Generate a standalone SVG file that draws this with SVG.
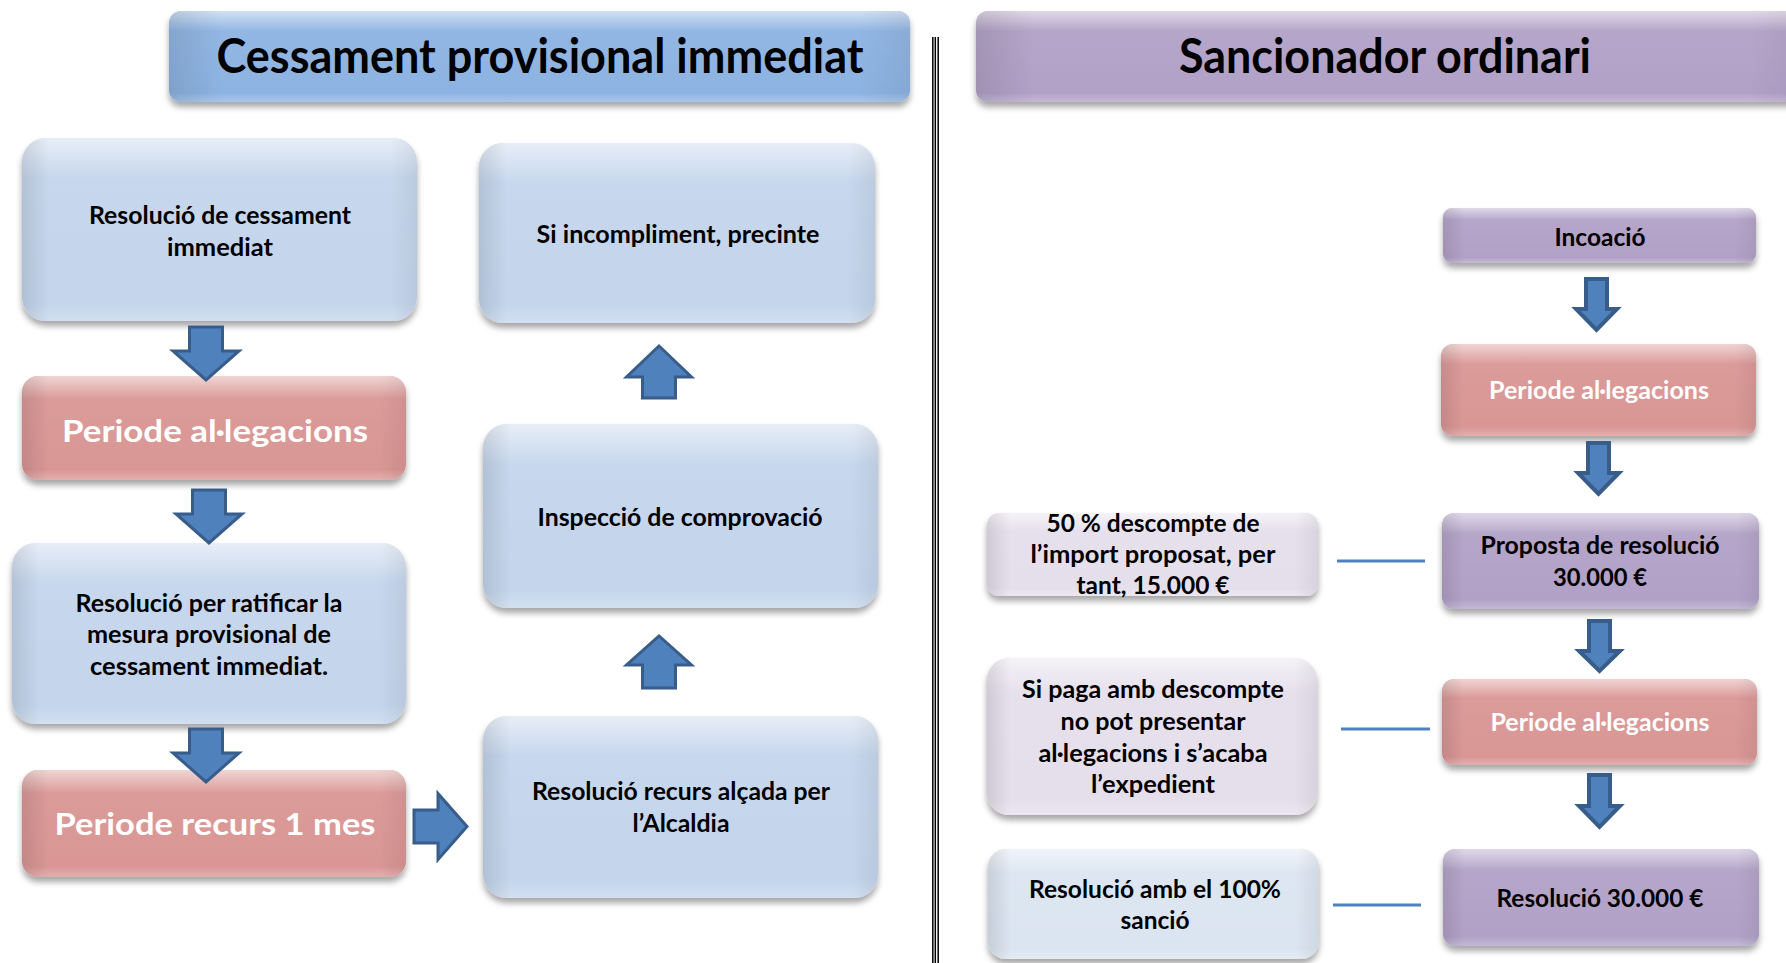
<svg xmlns="http://www.w3.org/2000/svg" width="1786" height="963" viewBox="0 0 1786 963">
<defs>
  <filter id="sh" x="-10%" y="-10%" width="120%" height="140%">
    <feDropShadow dx="0" dy="5" stdDeviation="3" flood-color="#000" flood-opacity="0.35"/>
  </filter>
  <linearGradient id="vshine" x1="0" y1="0" x2="0" y2="1">
    <stop offset="0" stop-color="#fff" stop-opacity="0.6"/>
    <stop offset="0.22" stop-color="#fff" stop-opacity="0.05"/>
    <stop offset="0.9" stop-color="#fff" stop-opacity="0"/>
    <stop offset="1" stop-color="#fff" stop-opacity="0.25"/>
  </linearGradient>
  <linearGradient id="hedge" x1="0" y1="0" x2="1" y2="0">
    <stop offset="0" stop-color="#000" stop-opacity="0.1"/>
    <stop offset="0.07" stop-color="#000" stop-opacity="0"/>
    <stop offset="0.93" stop-color="#000" stop-opacity="0"/>
    <stop offset="1" stop-color="#000" stop-opacity="0.06"/>
  </linearGradient>
</defs>
<style>
  .blue{fill:#c4d5ec;filter:url(#sh)}
  .pink{fill:#d99694;filter:url(#sh)}
  .purple{fill:#b2a1c7;filter:url(#sh)}
  .lav{fill:#e5dfec;filter:url(#sh)}
  .lblue{fill:#dbe5f1;filter:url(#sh)}
  .tblue{fill:#8db3e2;filter:url(#sh)}
  .shine{fill:url(#vshine)}
  .edge{fill:url(#hedge)}
  text{font-family:Lato,"Liberation Sans",sans-serif;font-weight:700;text-anchor:middle}
  .t{font-size:24px;fill:#000}
  .tr{font-size:25px;fill:#000}
  .big{font-size:31px;fill:#fff}
  .wr{font-size:25px;fill:#fff}
  .title{font-size:47px;fill:#000}
  .arr{fill:#4f81bd;stroke:#385d8a;stroke-width:3;stroke-linejoin:miter}
  .arr2{fill:#4f81bd;stroke:#385d8a;stroke-width:4;stroke-linejoin:miter}
  .ln{stroke:#4f81bd;stroke-width:3}
  .div{stroke:#000;stroke-width:1.5}
</style>
<rect width="1786" height="963" fill="#fff"/>

<g id="title-left">
  <rect class="tblue" x="169" y="11" width="741" height="91" rx="12"/>
  <rect class="shine" x="169" y="11" width="741" height="91" rx="12"/>
  <rect class="edge" x="169" y="11" width="741" height="91" rx="12"/>
  <text class="title" x="540" y="73" textLength="647" lengthAdjust="spacingAndGlyphs">Cessament provisional immediat</text>
</g>
<g id="title-right">
  <rect class="purple" x="976" y="11" width="830" height="91" rx="12"/>
  <rect class="shine" x="976" y="11" width="830" height="91" rx="12"/>
  <rect class="edge" x="976" y="11" width="830" height="91" rx="12"/>
  <text class="title" x="1385" y="73" textLength="412" lengthAdjust="spacingAndGlyphs">Sancionador ordinari</text>
</g>

<g id="divider">
  <line class="div" x1="932.8" y1="37" x2="932.8" y2="963"/>
  <line class="div" x1="935.3" y1="37" x2="935.3" y2="963"/>
  <line class="div" x1="938.2" y1="37" x2="938.2" y2="963"/>
</g>

<g id="n1">
  <rect class="blue" x="22" y="138" width="395" height="183" rx="24"/>
  <rect class="shine" x="22" y="138" width="395" height="183" rx="24"/>
  <rect class="edge" x="22" y="138" width="395" height="183" rx="24"/>
  <text class="t" x="220" y="224" textLength="262" lengthAdjust="spacingAndGlyphs">Resolució de cessament</text>
  <text class="t" x="220" y="256" textLength="106" lengthAdjust="spacingAndGlyphs">immediat</text>
</g>
<g id="n2">
  <rect class="pink" x="22" y="376" width="384" height="104" rx="16"/>
  <rect class="shine" x="22" y="376" width="384" height="104" rx="16"/>
  <rect class="edge" x="22" y="376" width="384" height="104" rx="16"/>
  <text class="big" x="215" y="442" textLength="306" lengthAdjust="spacingAndGlyphs">Periode al·legacions</text>
</g>
<g id="n3">
  <rect class="blue" x="12" y="543" width="394" height="181" rx="24"/>
  <rect class="shine" x="12" y="543" width="394" height="181" rx="24"/>
  <rect class="edge" x="12" y="543" width="394" height="181" rx="24"/>
  <text class="t" x="209" y="612" textLength="267" lengthAdjust="spacingAndGlyphs">Resolució per ratificar la</text>
  <text class="t" x="209" y="643" textLength="244" lengthAdjust="spacingAndGlyphs">mesura provisional de</text>
  <text class="t" x="209" y="675" textLength="238" lengthAdjust="spacingAndGlyphs">cessament immediat.</text>
</g>
<g id="n4">
  <rect class="pink" x="22" y="770" width="384" height="107" rx="16"/>
  <rect class="shine" x="22" y="770" width="384" height="107" rx="16"/>
  <rect class="edge" x="22" y="770" width="384" height="107" rx="16"/>
  <text class="big" x="215" y="835" textLength="321" lengthAdjust="spacingAndGlyphs">Periode recurs 1 mes</text>
</g>
<g id="n5">
  <rect class="blue" x="479" y="143" width="396" height="180" rx="24"/>
  <rect class="shine" x="479" y="143" width="396" height="180" rx="24"/>
  <rect class="edge" x="479" y="143" width="396" height="180" rx="24"/>
  <text class="t" x="678" y="243" textLength="283" lengthAdjust="spacingAndGlyphs">Si incompliment, precinte</text>
</g>
<g id="n6">
  <rect class="blue" x="483" y="424" width="395" height="184" rx="24"/>
  <rect class="shine" x="483" y="424" width="395" height="184" rx="24"/>
  <rect class="edge" x="483" y="424" width="395" height="184" rx="24"/>
  <text class="t" x="680" y="526" textLength="285" lengthAdjust="spacingAndGlyphs">Inspecció de comprovació</text>
</g>
<g id="n7">
  <rect class="blue" x="483" y="716" width="395" height="182" rx="24"/>
  <rect class="shine" x="483" y="716" width="395" height="182" rx="24"/>
  <rect class="edge" x="483" y="716" width="395" height="182" rx="24"/>
  <text class="t" x="681" y="800" textLength="298" lengthAdjust="spacingAndGlyphs">Resolució recurs alçada per</text>
  <text class="t" x="681" y="832" textLength="97" lengthAdjust="spacingAndGlyphs">l’Alcaldia</text>
</g>

<g id="r1">
  <rect class="purple" x="1443" y="208" width="313" height="55" rx="9"/>
  <rect class="shine" x="1443" y="208" width="313" height="55" rx="9"/>
  <rect class="edge" x="1443" y="208" width="313" height="55" rx="9"/>
  <text class="tr" x="1600" y="246" textLength="91" lengthAdjust="spacingAndGlyphs">Incoació</text>
</g>
<g id="r2">
  <rect class="pink" x="1441" y="344" width="315" height="92" rx="12"/>
  <rect class="shine" x="1441" y="344" width="315" height="92" rx="12"/>
  <rect class="edge" x="1441" y="344" width="315" height="92" rx="12"/>
  <text class="wr" x="1599" y="399" textLength="220" lengthAdjust="spacingAndGlyphs">Periode al·legacions</text>
</g>
<g id="r3">
  <rect class="purple" x="1442" y="513" width="317" height="96" rx="12"/>
  <rect class="shine" x="1442" y="513" width="317" height="96" rx="12"/>
  <rect class="edge" x="1442" y="513" width="317" height="96" rx="12"/>
  <text class="tr" x="1600" y="554" textLength="239" lengthAdjust="spacingAndGlyphs">Proposta de resolució</text>
  <text class="tr" x="1600" y="586" textLength="94" lengthAdjust="spacingAndGlyphs">30.000 €</text>
</g>
<g id="r4">
  <rect class="pink" x="1442" y="679" width="315" height="86" rx="12"/>
  <rect class="shine" x="1442" y="679" width="315" height="86" rx="12"/>
  <rect class="edge" x="1442" y="679" width="315" height="86" rx="12"/>
  <text class="wr" x="1600" y="731" textLength="219" lengthAdjust="spacingAndGlyphs">Periode al·legacions</text>
</g>
<g id="r5">
  <rect class="purple" x="1443" y="849" width="316" height="97" rx="12"/>
  <rect class="shine" x="1443" y="849" width="316" height="97" rx="12"/>
  <rect class="edge" x="1443" y="849" width="316" height="97" rx="12"/>
  <text class="tr" x="1600" y="907" textLength="207" lengthAdjust="spacingAndGlyphs">Resolució 30.000 €</text>
</g>
<g id="s1">
  <rect class="lav" x="987" y="513" width="331" height="83" rx="12"/>
  <rect class="shine" x="987" y="513" width="331" height="83" rx="12"/>
  <rect class="edge" x="987" y="513" width="331" height="83" rx="12"/>
  <text class="tr" x="1153" y="532" textLength="213" lengthAdjust="spacingAndGlyphs">50 % descompte de</text>
  <text class="tr" x="1153" y="563" textLength="245" lengthAdjust="spacingAndGlyphs">l’import proposat, per</text>
  <text class="tr" x="1153" y="594" textLength="153" lengthAdjust="spacingAndGlyphs">tant, 15.000 €</text>
</g>
<g id="s2">
  <rect class="lav" x="987" y="658" width="330" height="157" rx="22"/>
  <rect class="shine" x="987" y="658" width="330" height="157" rx="22"/>
  <rect class="edge" x="987" y="658" width="330" height="157" rx="22"/>
  <text class="tr" x="1153" y="698" textLength="262" lengthAdjust="spacingAndGlyphs">Si paga amb descompte</text>
  <text class="tr" x="1153" y="730" textLength="185" lengthAdjust="spacingAndGlyphs">no pot presentar</text>
  <text class="tr" x="1153" y="762" textLength="229" lengthAdjust="spacingAndGlyphs">al·legacions i s’acaba</text>
  <text class="tr" x="1153" y="793" textLength="124" lengthAdjust="spacingAndGlyphs">l’expedient</text>
</g>
<g id="s3">
  <rect class="lblue" x="988" y="849" width="331" height="110" rx="18"/>
  <rect class="shine" x="988" y="849" width="331" height="110" rx="18"/>
  <rect class="edge" x="988" y="849" width="331" height="110" rx="18"/>
  <text class="tr" x="1155" y="898" textLength="252" lengthAdjust="spacingAndGlyphs">Resolució amb el 100%</text>
  <text class="tr" x="1155" y="929" textLength="69" lengthAdjust="spacingAndGlyphs">sanció</text>
</g>

<g id="connectors">
  <path class="arr" d="M189.5,327 H222.5 V351 H239 L206,380 L173,351 H189.5 Z"/>
  <path class="arr" d="M192.5,490 H225.5 V514 H242 L209,543 L176,514 H192.5 Z"/>
  <path class="arr" d="M189.5,729 H222.5 V753 H239 L206,782 L173,753 H189.5 Z"/>
  <path class="arr" d="M414,810 H438 V793.5 L467,826.5 L438,859.5 V843 H414 Z"/>
  <path class="arr" d="M642.5,398 H675.5 V377 H691.5 L659,346 L626.5,377 H642.5 Z"/>
  <path class="arr" d="M642.5,688 H675.5 V665 H691.5 L659,636 L626.5,665 H642.5 Z"/>
  <path class="arr2" d="M1586,279 H1607 V309 H1617 L1596.5,330 L1576,309 H1586 Z"/>
  <path class="arr2" d="M1588,443 H1609 V473 H1619 L1598.5,494 L1578,473 H1588 Z"/>
  <path class="arr2" d="M1589,621 H1610 V651 H1620 L1599.5,671 L1579,651 H1589 Z"/>
  <path class="arr2" d="M1589,775 H1610 V806 H1620 L1599.5,827 L1579,806 H1589 Z"/>
  <line class="ln" x1="1337" y1="561" x2="1425" y2="561"/>
  <line class="ln" x1="1341" y1="729" x2="1430" y2="729"/>
  <line class="ln" x1="1333" y1="905" x2="1421" y2="905"/>
</g>
</svg>
